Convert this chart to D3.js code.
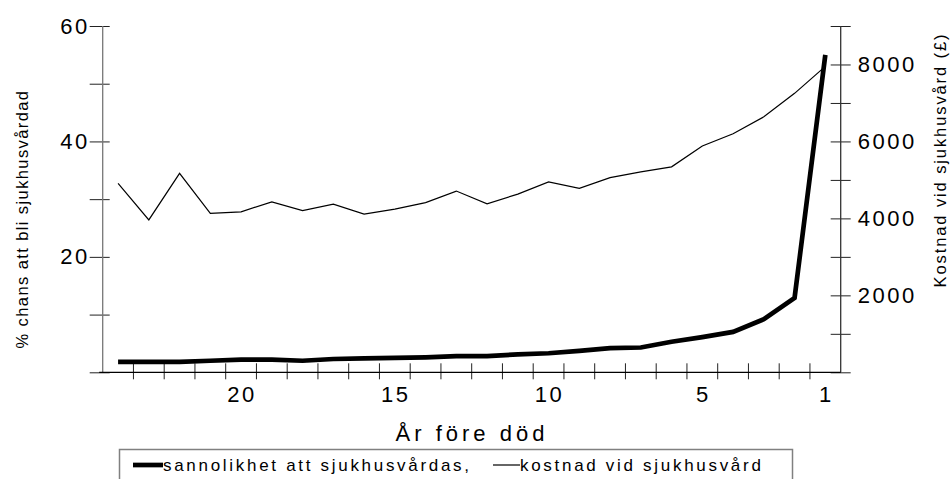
<!DOCTYPE html>
<html><head><meta charset="utf-8">
<script src="https://cdn.jsdelivr.net/npm/d3@7"></script>
<style>
body{margin:0;background:#fff;}
text{font-family:"Liberation Sans",Arial,sans-serif;fill:#000;}
</style></head>
<body><svg id="c" width="952" height="479"></svg>
<script>
const years = [24,23,22,21,20,19,18,17,16,15,14,13,12,11,10,9,8,7,6,5,4,3,2,1];
const probability = [1.8,1.8,1.8,2.0,2.2,2.2,2.0,2.3,2.4,2.5,2.6,2.8,2.8,3.1,3.3,3.7,4.2,4.3,5.3,6.1,7.0,9.2,12.9,55.0];
const cost = [4910,3960,5170,4130,4170,4430,4200,4370,4110,4240,4410,4710,4380,4630,4950,4780,5060,5210,5340,5880,6200,6640,7250,7950];
const xLabels = [20,15,10,5,1];
const leftTicks = [0,10,20,30,40,50,60];
const leftLabels = [20,40,60];
const rightTicks = [0,1000,2000,3000,4000,5000,6000,7000,8000,9000];
const rightLabels = [2000,4000,6000,8000];
const seriesNames = ["sannolikhet att sjukhusvårdas,","kostnad vid sjukhusvård"];

const svg = d3.select("#c");
const L = 102.7, R = 840.7, T = 26, B = 372.3;
const x = d3.scaleBand().domain(years).range([L,R]);
const cx = d => x(d) + x.bandwidth()/2;
const yL = d3.scaleLinear().domain([0,60]).range([B,T]);
const yR = d3.scaleLinear().domain([0,9000]).range([B,T]);
const tickFont = 22, tickLS = "2.5px";

// left axis
const gl = svg.append("g").attr("transform",`translate(${L},0)`)
  .call(d3.axisLeft(yL).tickValues(leftTicks).tickSize(13).tickPadding(0)
    .tickFormat(d => leftLabels.includes(d) ? d : ""));
gl.select(".domain").remove();
gl.selectAll(".tick line").attr("x2",-13).attr("x1",7).attr("stroke","#222");
gl.selectAll(".tick text").attr("font-size",tickFont).attr("letter-spacing",tickLS).attr("fill","#000");
svg.append("line").attr("x1",L).attr("x2",L).attr("y1",T).attr("y2",B).attr("stroke","#777").attr("stroke-width",1.3);

// right axis
const gr = svg.append("g").attr("transform",`translate(${R},0)`)
  .call(d3.axisRight(yR).tickValues(rightTicks).tickSize(10).tickPadding(7)
    .tickFormat(d => rightLabels.includes(d) ? d : ""));
gr.select(".domain").remove();
gr.selectAll(".tick line").attr("x1",-10).attr("x2",10).attr("stroke","#222");
gr.selectAll(".tick text").attr("font-size",tickFont).attr("letter-spacing",tickLS).attr("fill","#000");
svg.append("line").attr("x1",R).attr("x2",R).attr("y1",T).attr("y2",B).attr("stroke","#333").attr("stroke-width",1.3);

// x axis
const bounds = d3.range(1,years.length).map(i => L + i*x.step());
svg.append("g").selectAll("line").data(bounds).join("line")
  .attr("x1",d=>d).attr("x2",d=>d).attr("y1",B-9).attr("y2",B+7).attr("stroke","#222");
svg.append("line").attr("x1",L-3.5).attr("x2",R).attr("y1",B).attr("y2",B).attr("stroke","#000").attr("stroke-width",1.3);
svg.append("g").selectAll("text").data(xLabels).join("text")
  .attr("x",d=>cx(d)+1).attr("y",B+30).attr("text-anchor","middle")
  .attr("font-size",tickFont).attr("letter-spacing",tickLS).text(d=>d);

// titles
svg.append("text").attr("x",472).attr("y",441).attr("text-anchor","middle")
  .attr("font-size",22).attr("letter-spacing","4px").text("År före död");
svg.append("text").attr("transform","translate(28,219) rotate(-90)").attr("text-anchor","middle")
  .attr("font-size",16.5).attr("letter-spacing","1.4px").text("% chans att bli sjukhusvårdad");
svg.append("text").attr("transform","translate(946,160) rotate(-90)").attr("text-anchor","middle")
  .attr("font-size",16.5).attr("letter-spacing","1.9px").text("Kostnad vid sjukhusvård (£)");

// lines
svg.append("path").datum(cost)
  .attr("d", d3.line().x((d,i)=>cx(years[i])).y(d=>yR(d)))
  .attr("fill","none").attr("stroke","#000").attr("stroke-width",1.2);
svg.append("path").datum(probability)
  .attr("d", d3.line().x((d,i)=>cx(years[i])).y(d=>yL(d)))
  .attr("fill","none").attr("stroke","#000").attr("stroke-width",4.7);

// legend
svg.append("rect").attr("x",119.5).attr("y",449.5).attr("width",673).attr("height",40)
  .attr("fill","#fff").attr("stroke","#808080").attr("stroke-width",1.5);
svg.append("line").attr("x1",133).attr("x2",163).attr("y1",465).attr("y2",465).attr("stroke","#000").attr("stroke-width",4.7);
svg.append("text").attr("x",163).attr("y",471).attr("font-size",17).attr("letter-spacing","2.7px").text(seriesNames[0]);
svg.append("line").attr("x1",493).attr("x2",520).attr("y1",465).attr("y2",465).attr("stroke","#000").attr("stroke-width",1.2);
svg.append("text").attr("x",520).attr("y",471).attr("font-size",17).attr("letter-spacing","2.7px").text(seriesNames[1]);
</script></body></html>
